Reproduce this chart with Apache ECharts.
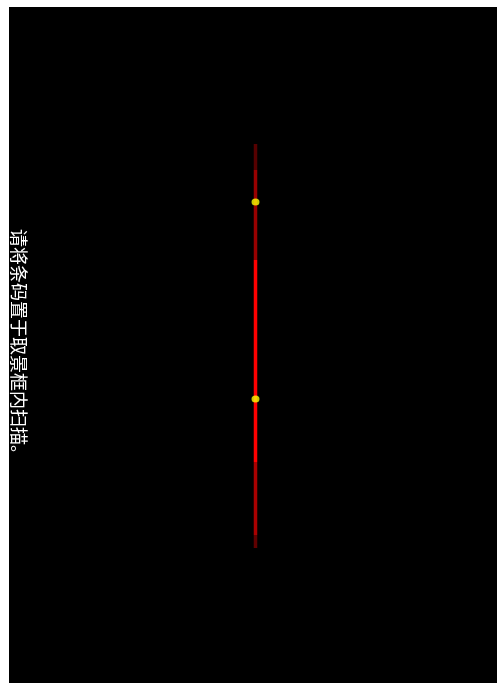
<!DOCTYPE html>
<html>
<head>
<meta charset="utf-8">
<script src="https://cdn.jsdelivr.net/npm/echarts@6/dist/echarts.min.js"></script>
<style>
html,body{margin:0;padding:0;background:#fff;}
#c{width:497px;height:683px;}
</style>
</head>
<body>
<div id="c"></div>
<script>
// scan line position (x) and segment boundaries (y, downward from top of viewfinder)
const lineX = 246.5;
const segmentBounds = [137, 163, 253, 455, 528, 541];
const segmentNames = ['dim top', 'mid top', 'bright', 'mid bottom', 'dim bottom'];
const dotY = [195, 392];
const promptText = '请将条码置于取景框内扫描。';

const segColors = ['#560000', '#990000', '#ff0000', '#aa0000', '#600000'];

const chart = echarts.init(document.getElementById('c'));
const series = segmentNames.map((n, i) => ({
  type: 'line',
  name: n,
  data: [[lineX, segmentBounds[i]], [lineX, segmentBounds[i + 1]]],
  symbol: 'none',
  lineStyle: { color: segColors[i], width: 3.5 },
  silent: true,
  animation: false,
  z: 2
}));
series.push({
  type: 'scatter',
  data: dotY.map(y => [lineX, y]),
  symbol: 'circle',
  symbolSize: [8, 7],
  itemStyle: { color: '#ffff00' },
  silent: true,
  animation: false,
  z: 3
});

chart.setOption({
  backgroundColor: '#fff',
  animation: false,
  grid: { left: 9, top: 7, right: 0, bottom: 0, show: true, backgroundColor: '#000', borderWidth: 0 },
  xAxis: { type: 'value', min: 0, max: 488, show: false },
  yAxis: { type: 'value', min: 0, max: 676, inverse: true, show: false },
  series: series,
  graphic: [{
    type: 'text',
    x: 19,
    y: 346,
    rotation: -Math.PI / 2,
    style: {
      text: promptText,
      fill: '#ffffff',
      font: '18px "Noto Sans CJK SC"',
      align: 'center',
      verticalAlign: 'middle'
    }
  }]
});
</script>
</body>
</html>
